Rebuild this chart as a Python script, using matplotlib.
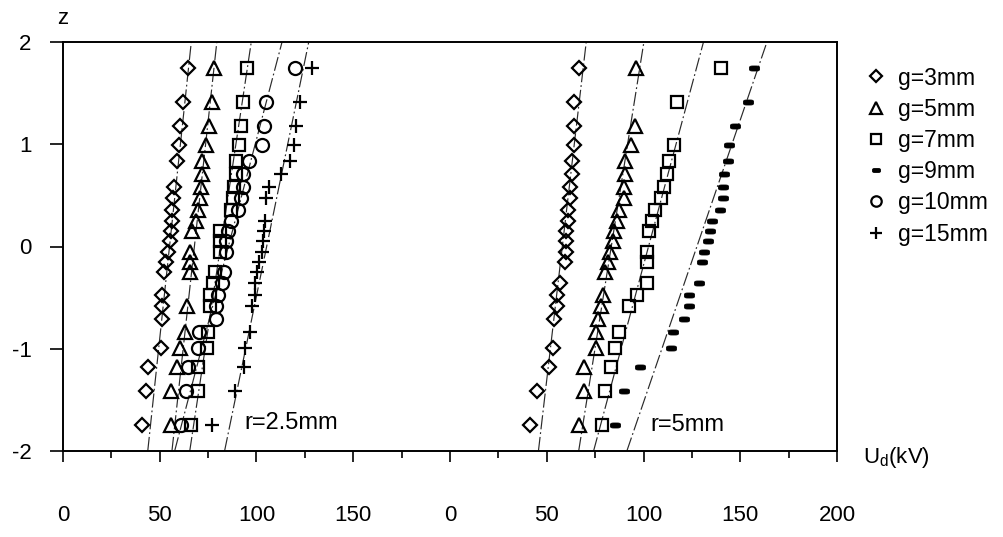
import numpy as np
import matplotlib
matplotlib.use("Agg")
import matplotlib.pyplot as plt
from matplotlib.path import Path

plt.rcParams["font.family"] = ["Liberation Sans", "DejaVu Sans"]
plt.rcParams["mathtext.fontset"] = "custom"
plt.rcParams["mathtext.rm"] = "Liberation Sans"
plt.rcParams["axes.unicode_minus"] = False

# normal-probability ordinate of each ranked breakdown voltage
z_score = [-1.75, -1.41, -1.18, -0.99, -0.84, -0.71, -0.58, -0.47, -0.36, -0.25,
           -0.15, -0.05, 0.05, 0.15, 0.25, 0.36, 0.47, 0.58, 0.71, 0.84,
           0.99, 1.18, 1.41, 1.75]

N = None  # no measurement plotted at that rank

# breakdown voltage Ud (kV), electrode radius r = 2.5 mm
r25_g3 = [40.6, 43.1, 44.0, 50.5, N, 51.2, 51.2, 51.4, N, 52.2,
          53.4, 54.3, 55.2, 55.8, 56.2, 56.5, 56.9, 57.4, N, 59.1,
          60.0, 60.7, 62.0, 64.6]
r25_g5 = [55.7, 56.0, 58.8, 60.7, 62.9, N, 64.0, N, N, 65.5,
          65.5, 65.5, N, 66.8, 68.6, 69.8, 70.6, 71.1, 72.0, 72.0,
          74.0, 75.3, 77.1, 78.0]
r25_g7 = [66.3, 69.8, 70.0, 74.5, 75.0, N, 75.8, 75.8, 77.5, 78.4,
          N, 80.9, 80.9, 81.3, N, 86.9, 88.0, 88.4, 89.2, 89.5,
          90.9, 91.8, 92.9, 95.0]
r25_g10 = [61.2, 63.8, 64.6, 70.0, 70.2, 78.9, 79.3, 80.0, 82.0, 83.0,
           N, 84.4, 84.4, 85.2, 86.9, 90.4, 92.1, 92.9, 92.9, 96.0,
           102.9, 104.1, 105.0, 119.9]
r25_g15 = [76.8, 88.7, 93.5, 94.2, 96.8, N, 97.5, 99.0, 99.3, 100.2,
           101.5, 102.9, 103.3, 103.8, 104.3, N, 105.0, 106.5, 112.7, 117.5,
           119.4, 120.4, 122.3, 128.6]

# breakdown voltage Ud (kV), electrode radius r = 5 mm
r5_g3 = [41.2, 45.2, 51.0, 53.0, N, 54.0, 55.3, 55.3, 56.7, N,
         59.3, 60.0, 60.0, 60.0, 61.0, 61.0, 61.9, 61.9, 63.1, 63.1,
         64.0, 64.1, 64.3, 66.5]
r5_g5 = [66.9, 69.3, 69.5, 75.3, 75.6, 76.5, 78.0, 78.9, N, 80.0,
         81.6, 82.8, 84.0, 84.5, 86.3, 87.1, 89.7, 89.7, 90.6, 90.6,
         93.7, 95.4, N, 96.2]
r5_g7 = [78.7, 80.3, 83.3, 85.4, 87.5, N, 92.6, 96.6, 101.7, N,
         101.7, 101.7, N, 102.6, 104.3, 105.7, 109.1, 110.5, 112.0, 113.2,
         116.0, N, 117.2, 139.9]
r5_g9 = [85.1, 89.7, 98.0, 114.3, 115.3, 120.8, 123.7, 123.7, 128.9, N,
         130.4, 131.4, 133.2, 134.4, 135.6, 139.5, 141.2, 141.2, 141.5, 143.5,
         144.2, 147.3, 153.8, 157.0]

# fitted normal lines: Ud at z = -2 and at z = +2
r25_fit_lo = [43.8, 56.3, 65.5, 57.7, 83.5]     # g = 3, 5, 7, 10, 15 mm
r25_fit_hi = [66.3, 79.5, 97.3, 113.2, 127.0]
r5_fit_lo = [45.7, 66.5, 74.2, 91.4]            # g = 3, 5, 7, 9 mm
r5_fit_hi = [70.4, 100.2, 131.0, 163.8]

# the r = 5 mm block is drawn on the same axis, shifted by this many kV
panel_shift = 200
x_tick_values = [0, 50, 100, 150, 200, 250, 300, 350, 400]
x_tick_labels = ["0", "50", "100", "150", "0", "50", "100", "150", "200"]
y_tick_values = [-2, -1, 0, 1, 2]
y_tick_labels = ["-2", "-1", "0", "1", "2"]

# flat filled bar with rounded ends, used for the g = 9 mm series
t = np.linspace(0, 2 * np.pi, 41)
cx = np.sign(np.cos(t)) * np.abs(np.cos(t)) ** 0.5
cy = 0.5 * np.sign(np.sin(t)) * np.abs(np.sin(t)) ** 0.5
blob = Path(np.column_stack([cx, cy]), closed=True)

styles = {
    "g=3mm": dict(marker="D", ms=7.6),
    "g=5mm": dict(marker="^", ms=10.0),
    "g=7mm": dict(marker="s", ms=8.8),
    "g=9mm": dict(marker=blob, ms=7.2, mfc="black", mew=0.6),
    "g=10mm": dict(marker="o", ms=9.4),
    "g=15mm": dict(marker="+", ms=10.5),
}

W, H = 1004, 537
fig = plt.figure(figsize=(W / 100, H / 100), dpi=100)
ax = fig.add_axes([63 / W, 1 - 451 / H, 774 / W, 409 / H])
ax.set_xlim(0, 400)
ax.set_ylim(-2, 2)

fit_style = dict(color="#2a2a2a", lw=0.85, dashes=(12, 2.5, 1.5, 2.5), zorder=1)

def draw_series(values, label, shift):
    st = dict(ls="none", color="black", mfc="none", mew=1.6, zorder=3)
    st.update(styles[label])
    u = np.array(values, dtype=float) + shift
    return ax.plot(u, z_score, label=label, **st)[0]

handles = {}
for vals, lab in [(r25_g3, "g=3mm"), (r25_g5, "g=5mm"), (r25_g7, "g=7mm"),
                  (r25_g10, "g=10mm"), (r25_g15, "g=15mm")]:
    handles[lab] = draw_series(vals, lab, 0)
for vals, lab in [(r5_g3, "g=3mm"), (r5_g5, "g=5mm"), (r5_g7, "g=7mm"),
                  (r5_g9, "g=9mm")]:
    h = draw_series(vals, lab, panel_shift)
    handles.setdefault(lab, h)

for lo, hi in zip(r25_fit_lo, r25_fit_hi):
    ax.plot([lo, hi], [-2, 2], **fit_style)
for lo, hi in zip(r5_fit_lo, r5_fit_hi):
    ax.plot([lo + panel_shift, hi + panel_shift], [-2, 2], **fit_style)

for sp in ax.spines.values():
    sp.set_linewidth(1.4)

ax.set_xticks(x_tick_values)
ax.set_xticklabels(x_tick_labels)
ax.set_xticks(np.arange(25, 400, 50), minor=True)
ax.set_yticks(y_tick_values)
ax.set_yticklabels(y_tick_labels)
ax.tick_params(axis="x", which="major", direction="out", length=8, width=1.2,
               pad=31, labelsize=16)
ax.tick_params(axis="x", which="minor", direction="out", length=5, width=1.2)
ax.tick_params(axis="y", which="major", direction="out", length=9.5, width=1.2,
               pad=13, labelsize=16)

ax.text(93.8, -1.73, "r=2.5mm", fontsize=17, va="center", ha="left")
ax.text(303.6, -1.75, "r=5mm", fontsize=17, va="center", ha="left")

fig.text(63 / W, 1 - 19 / H, "z", fontsize=16, ha="center", va="center")
fig.text(863 / W, 1 - 457 / H, r"U$_\mathregular{d}$(kV)", fontsize=16,
         ha="left", va="center")

order = ["g=3mm", "g=5mm", "g=7mm", "g=9mm", "g=10mm", "g=15mm"]
ax.legend([handles[k] for k in order], order, loc="upper left",
          bbox_to_anchor=(864.5 / W, 1 - 66.5 / H), bbox_transform=fig.transFigure,
          frameon=False, fontsize=16.5, handlelength=1.0, handletextpad=0.46,
          labelspacing=0.36, borderpad=0, borderaxespad=0, numpoints=1,
          markerscale=0.8)

fig.savefig("out.png", dpi=100, facecolor="white")
